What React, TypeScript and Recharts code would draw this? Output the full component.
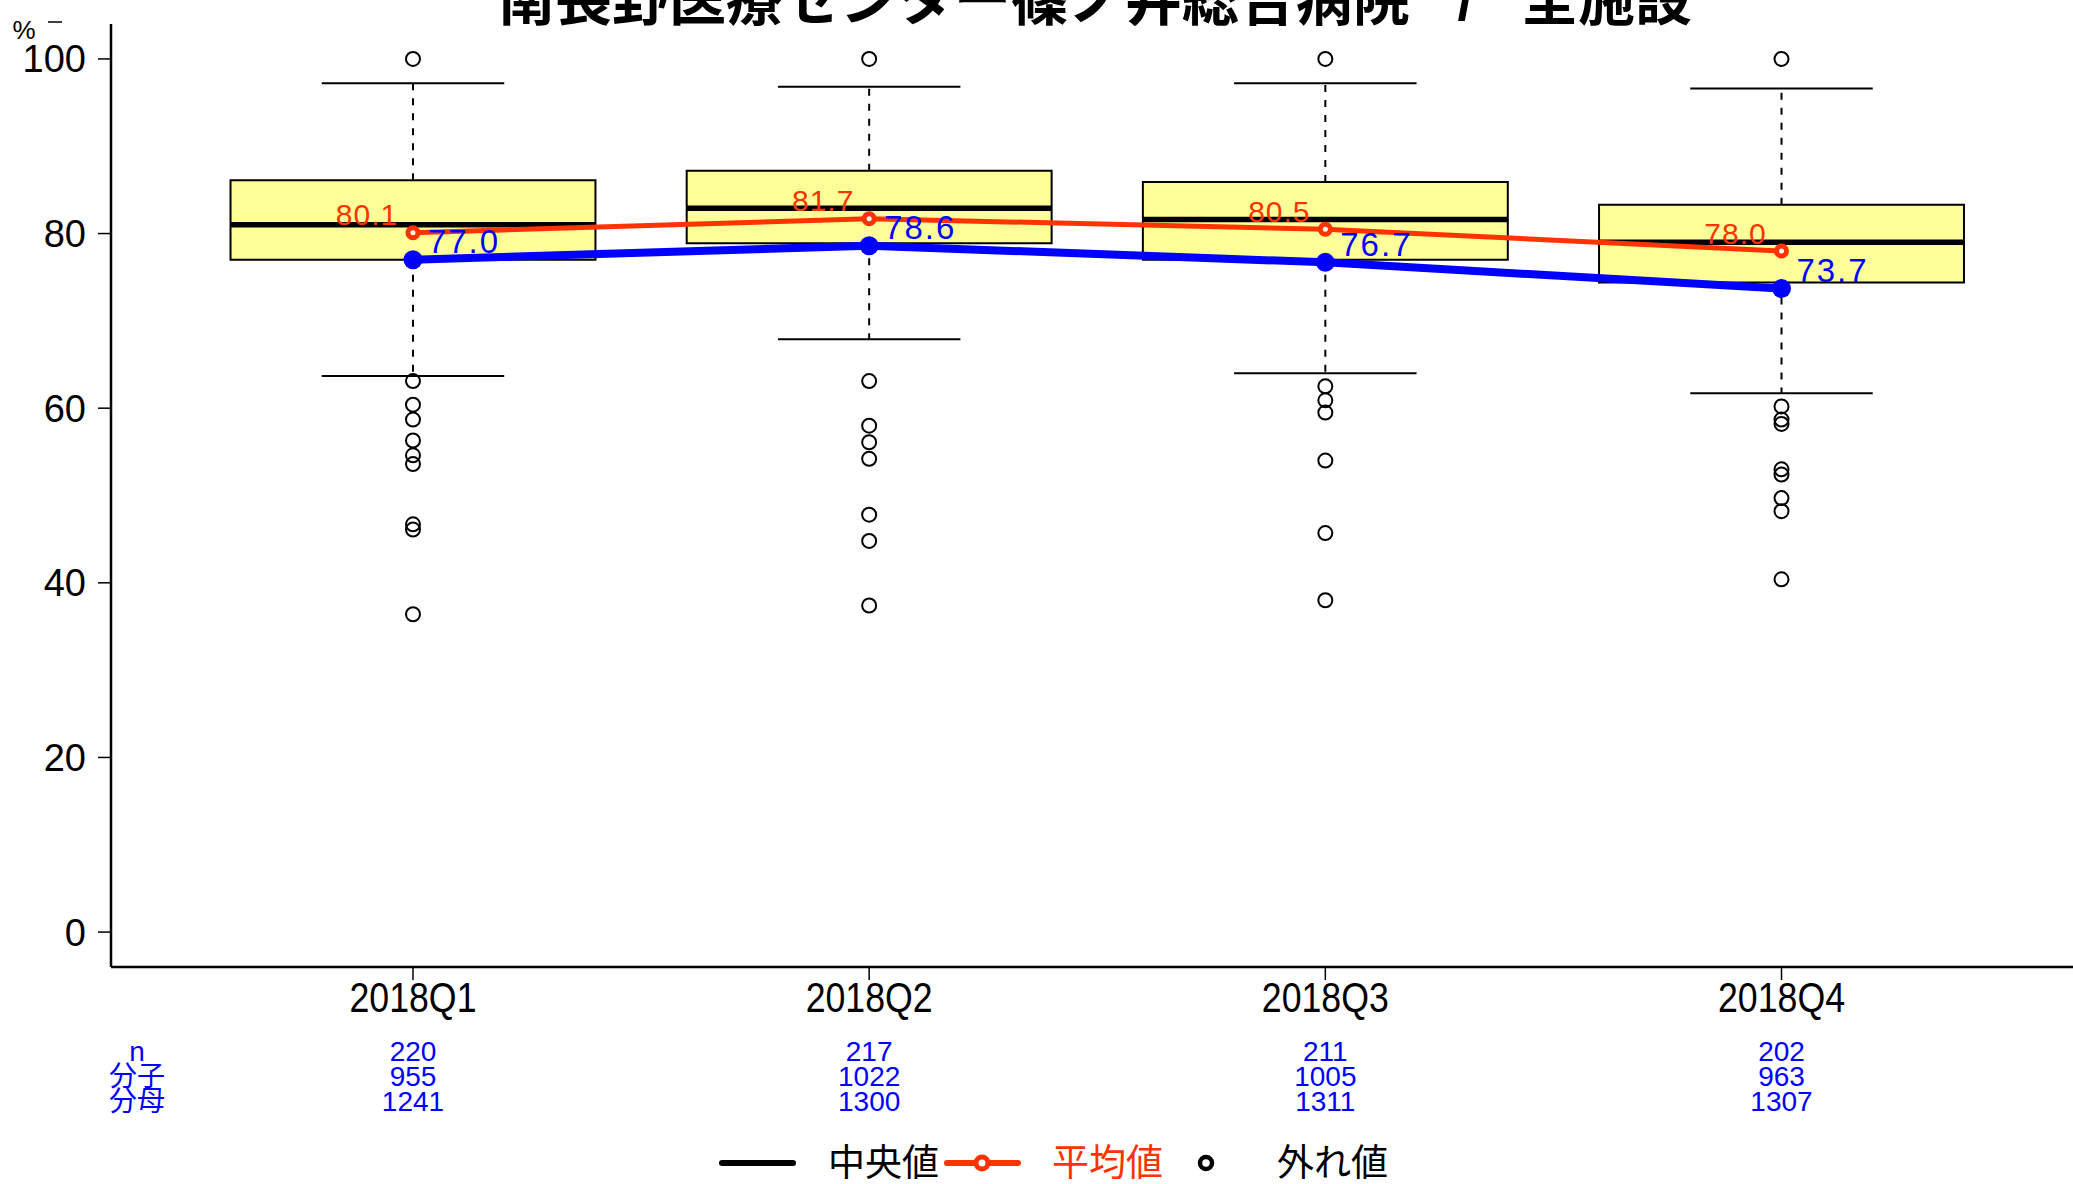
import React from 'react'
import {
  ComposedChart,
  Line,
  Scatter,
  XAxis,
  YAxis,
  ReferenceArea,
  ReferenceLine,
  LabelList,
} from 'recharts'

const quarters = ['2018Q1', '2018Q2', '2018Q3', '2018Q4']
const boxLow = [77.0, 78.9, 77.0, 74.4]
const medians = [81.0, 82.9, 81.6, 79.0]
const boxHigh = [86.1, 87.2, 85.9, 83.3]
const whiskerLow = [63.7, 67.9, 64.0, 61.7]
const whiskerHigh = [97.2, 96.8, 97.2, 96.6]
const meanVals = [80.1, 81.7, 80.5, 78.0]
const ownVals = [77.0, 78.6, 76.7, 73.7]
const outliers = [
  [100, 63.1, 60.4, 58.7, 56.3, 54.6, 53.6, 46.7, 46.1, 36.4],
  [100, 63.1, 58.0, 56.1, 54.2, 47.8, 44.8, 37.4],
  [100, 62.5, 60.9, 59.5, 54.0, 45.7, 38.0],
  [100, 60.2, 58.7, 58.2, 53.0, 52.4, 49.7, 48.2, 40.4],
]
const nVals = [220, 217, 211, 202]
const numerators = [955, 1022, 1005, 963]
const denominators = [1241, 1300, 1311, 1307]
const yTicks = [0, 20, 40, 60, 80, 100]

const title = '南長野医療センター篠ノ井総合病院\u00A0\u00A0\u00A0/\u00A0\u00A0\u00A0全施設'
const FONT = "'Liberation Sans', Arial, 'Noto Sans CJK JP', sans-serif"
const RED = '#FF3300'
const BLUE = '#0000FF'

const rows = quarters.map((q, i) => ({ x: i + 1, mean: meanVals[i], own: ownVals[i] }))
const outlierPts = outliers.flatMap((list, i) => list.map((v) => ({ x: i + 1, v })))

const XTick = (props: any) => {
  const { x, y, payload } = props
  const i = payload.value - 1
  return (
    <g fontFamily={FONT}>
      <text
        x={0}
        y={0}
        transform={`translate(${x},${y + 17}) scale(0.85,1)`}
        textAnchor="middle"
        dominantBaseline="central"
        fontSize={42}
        fill="#000"
      >
        {quarters[i]}
      </text>
      <g fill={BLUE} fontSize={28} textAnchor="middle" dominantBaseline="central">
        <text x={x} y={y + 71}>{nVals[i]}</text>
        <text x={x} y={y + 96}>{numerators[i]}</text>
        <text x={x} y={y + 121}>{denominators[i]}</text>
      </g>
    </g>
  )
}

const RedDot = (props: any) => {
  const { cx, cy } = props
  return <circle cx={cx} cy={cy} r={5} fill="#fff" stroke={RED} strokeWidth={5} />
}

const BlueDot = (props: any) => {
  const { cx, cy } = props
  return <circle cx={cx} cy={cy} r={9.5} fill={BLUE} />
}

const OpenCircle = (props: any) => {
  const { cx, cy } = props
  return <circle cx={cx} cy={cy} r={7} fill="none" stroke="#000" strokeWidth={2} />
}

const redLabel = (props: any) => (
  <text
    x={props.x - 46}
    y={props.y - 18}
    textAnchor="middle"
    dominantBaseline="central"
    fontSize={30}
    letterSpacing={1}
    fontFamily={FONT}
    fill={RED}
  >
    {Number(props.value).toFixed(1)}
  </text>
)

const blueLabel = (props: any) => (
  <text
    x={props.x + 51}
    y={props.y - 18}
    textAnchor="middle"
    dominantBaseline="central"
    fontSize={33}
    letterSpacing={2}
    fontFamily={FONT}
    fill={BLUE}
  >
    {Number(props.value).toFixed(1)}
  </text>
)

export default function App() {
  return (
    <div style={{ position: 'absolute', left: 0, top: 0, width: 2073, height: 1184, background: '#fff', overflow: 'hidden' }}>
      <ComposedChart width={2073} height={1184} data={rows} margin={{ top: 24, right: 0, bottom: 0, left: 0 }}>
        <XAxis
          type="number"
          dataKey="x"
          domain={[0.338, 4.639]}
          allowDataOverflow
          ticks={[1, 2, 3, 4]}
          height={217}
          tick={<XTick />}
          tickSize={13}
          tickMargin={0}
          tickLine={{ stroke: '#000', strokeWidth: 1.5 }}
          axisLine={{ stroke: '#000', strokeWidth: 2.5 }}
        />
        <YAxis
          type="number"
          domain={[-4, 104]}
          ticks={yTicks}
          width={111}
          tickSize={13}
          tickMargin={12}
          tick={{ fontSize: 38, fill: '#000', fontFamily: FONT }}
          tickLine={{ stroke: '#000', strokeWidth: 1.5 }}
          axisLine={{ stroke: '#000', strokeWidth: 2.5 }}
        />
        {quarters.map((q, i) => (
          <ReferenceArea
            key={'box' + q}
            x1={i + 0.6}
            x2={i + 1.4}
            y1={boxLow[i]}
            y2={boxHigh[i]}
            fill="#FFFF99"
            fillOpacity={1}
            stroke="#000"
            strokeWidth={2}
          />
        ))}
        {quarters.map((q, i) => (
          <ReferenceLine
            key={'wu' + q}
            segment={[{ x: i + 1, y: boxHigh[i] }, { x: i + 1, y: whiskerHigh[i] }]}
            stroke="#000"
            strokeWidth={2}
            strokeDasharray="7 8"
          />
        ))}
        {quarters.map((q, i) => (
          <ReferenceLine
            key={'wl' + q}
            segment={[{ x: i + 1, y: boxLow[i] }, { x: i + 1, y: whiskerLow[i] }]}
            stroke="#000"
            strokeWidth={2}
            strokeDasharray="7 8"
          />
        ))}
        {quarters.map((q, i) => (
          <ReferenceLine
            key={'cu' + q}
            segment={[{ x: i + 0.8, y: whiskerHigh[i] }, { x: i + 1.2, y: whiskerHigh[i] }]}
            stroke="#000"
            strokeWidth={2}
          />
        ))}
        {quarters.map((q, i) => (
          <ReferenceLine
            key={'cl' + q}
            segment={[{ x: i + 0.8, y: whiskerLow[i] }, { x: i + 1.2, y: whiskerLow[i] }]}
            stroke="#000"
            strokeWidth={2}
          />
        ))}
        {quarters.map((q, i) => (
          <ReferenceLine
            key={'md' + q}
            segment={[{ x: i + 0.6, y: medians[i] }, { x: i + 1.4, y: medians[i] }]}
            stroke="#000"
            strokeWidth={5.5}
          />
        ))}
        <Scatter data={outlierPts} dataKey="v" shape={<OpenCircle />} isAnimationActive={false} />
        <Line
          dataKey="mean"
          stroke={RED}
          strokeWidth={5}
          dot={<RedDot />}
          activeDot={false}
          isAnimationActive={false}
        >
          <LabelList dataKey="mean" content={redLabel} />
        </Line>
        <Line
          dataKey="own"
          stroke={BLUE}
          strokeWidth={8}
          dot={<BlueDot />}
          activeDot={false}
          isAnimationActive={false}
        >
          <LabelList dataKey="own" content={blueLabel} />
        </Line>
      </ComposedChart>
      <svg
        width={2073}
        height={1184}
        style={{ position: 'absolute', left: 0, top: 0, pointerEvents: 'none' }}
        fontFamily={FONT}
      >
        <text x={1095} y={20} textAnchor="middle" fontSize={57} fontWeight="bold" fill="#000">
          {title}
        </text>
        <text x={24} y={30} textAnchor="middle" dominantBaseline="central" fontSize={26} fill="#000">%</text>
        <line x1={48} x2={62} y1={22} y2={22} stroke="#000" strokeWidth={1.5} />
        <g fill={BLUE} fontSize={28} textAnchor="middle" dominantBaseline="central">
          <text x={137} y={1051}>n</text>
          <text x={137} y={1076}>分子</text>
          <text x={137} y={1101}>分母</text>
        </g>
        <g fontSize={37} dominantBaseline="central">
          <line x1={722} x2={793} y1={1163} y2={1163} stroke="#000" strokeWidth={6} strokeLinecap="round" />
          <text x={828} y={1163} fill="#000">中央値</text>
          <line x1={947} x2={1018} y1={1163} y2={1163} stroke={RED} strokeWidth={6} strokeLinecap="round" />
          <circle cx={982} cy={1163} r={6} fill="#fff" stroke={RED} strokeWidth={5} />
          <text x={1052} y={1163} fill={RED}>平均値</text>
          <circle cx={1206} cy={1163} r={6} fill="none" stroke="#000" strokeWidth={4.5} />
          <text x={1277} y={1163} fill="#000">外れ値</text>
        </g>
      </svg>
    </div>
  )
}
